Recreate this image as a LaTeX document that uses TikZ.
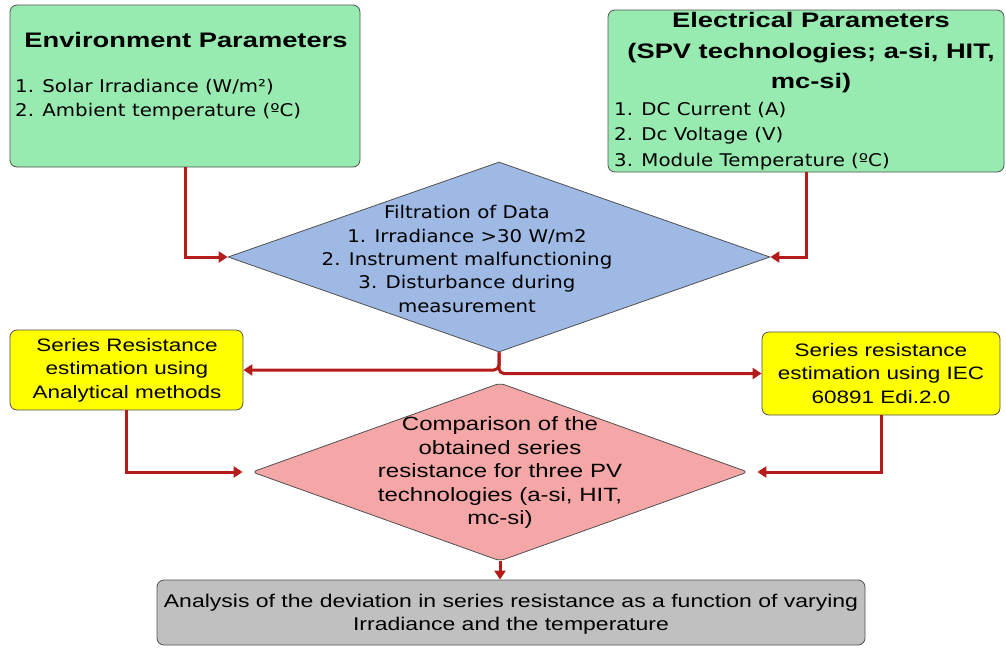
\documentclass[tikz,border=0pt]{standalone}
\usepackage{fontspec}
\setmainfont{DejaVu Sans}[FakeStretch=1.13]
\newfontfamily\titlefont[FakeStretch=1.3]{Liberation Sans}
\newfontfamily\widefont[FakeStretch=1.25]{Liberation Sans}
\usetikzlibrary{shapes.geometric,arrows.meta}
\definecolor{boxgreen}{RGB}{152,235,176}
\definecolor{boxblue}{RGB}{157,185,228}
\definecolor{boxyellow}{RGB}{255,255,0}
\definecolor{boxpink}{RGB}{245,166,166}
\definecolor{boxgray}{RGB}{192,192,192}
\definecolor{arrred}{RGB}{180,28,28}
\definecolor{edge}{RGB}{80,80,80}
\begin{document}
\begin{tikzpicture}[x=1pt,y=-1pt,
  rbox/.style={draw=edge, line width=0.8pt, rounded corners=7pt, inner sep=0pt},
  dshape/.style={diamond, draw=edge, line width=0.8pt, inner sep=0pt},
  arr/.style={draw=arrred, line width=3pt, -{Triangle[length=9pt,width=11pt]}},
  ttl/.style={font=\titlefont\bfseries\fontsize{21}{30.5}\selectfont, align=center, inner sep=0pt},
  lst/.style={font=\fontsize{17.5}{24}\selectfont, align=left, inner sep=0pt, anchor=west},
  dtxt/.style={font=\fontsize{17.5}{23.3}\selectfont, align=center, inner sep=0pt},
  ctxt/.style={font=\widefont\fontsize{18}{23.5}\selectfont, align=center, inner sep=0pt}
]
\useasboundingbox (0,0) rectangle (1006,648);

% boxes
\node[rbox, fill=boxgreen, minimum width=350pt, minimum height=162pt] (env) at (185,86) {};
\node[rbox, fill=boxgreen, minimum width=396pt, minimum height=162pt] (elec) at (806,91) {};
\node[dshape, fill=boxblue, minimum width=542pt, minimum height=190pt] (filt) at (499,257) {};
\node[rbox, fill=boxyellow, minimum width=233pt, minimum height=80pt] (yl) at (126.5,370) {};
\node[rbox, fill=boxyellow, minimum width=238pt, minimum height=83pt] (yr) at (881,373.5) {};
\node[dshape, fill=boxpink, rounded corners=5pt, minimum width=496pt, minimum height=178pt] (comp) at (500,472) {};
\node[rbox, fill=boxgray, minimum width=708pt, minimum height=65pt] (anal) at (511,612.5) {};

% texts
\node[ttl] (envt) at (186,40) {Environment Parameters};
\node[lst] (envl) at (15,100) {1. Solar Irradiance (W/m²)\\2. Ambient temperature (ºC)};
\node[ttl] (elect) at (811,53) {Electrical Parameters\\(SPV technologies; a-si, HIT,\\mc-si)};
\node[lst, font=\fontsize{17.5}{25.5}\selectfont] (elecl) at (614,136) {1. DC Current (A)\\2. Dc Voltage (V)\\3. Module Temperature (ºC)};
\node[dtxt] (filtt) at (467,259) {Filtration of Data\\1. Irradiance >30 W/m2\\2. Instrument malfunctioning\\3. Disturbance during\\measurement};
\node[ctxt] (ylt) at (127,370) {Series Resistance\\estimation using\\Analytical methods};
\node[ctxt] (yrt) at (881,373.5) {Series resistance\\estimation using IEC\\60891 Edi.2.0};
\node[ctxt, font=\widefont\fontsize{19.2}{23.5}\selectfont] (compt) at (500,473) {Comparison of the\\obtained series\\resistance for three PV\\technologies (a-si, HIT,\\mc-si)};
\node[ctxt, font=\widefont\fontsize{18.4}{23.5}\selectfont] (analt) at (511,614) {Analysis of the deviation in series resistance as a function of varying\\Irradiance and the temperature};

% connectors
\draw[arr] (env.south) |- (filt.west);
\draw[arr] (elec.south) |- (filt.east);
\draw[arr, rounded corners=5pt] (filt.south) |- (yl.east);
\draw[arr, rounded corners=5pt] (filt.south) |- (yr.west);
\draw[arr] (yl.south) |- ([xshift=-9pt]comp.west);
\draw[arr] (yr.south) |- ([xshift=9pt]comp.east);
\draw[arr] (comp.south) -- (comp.south |- anal.north);
\end{tikzpicture}
\end{document}
